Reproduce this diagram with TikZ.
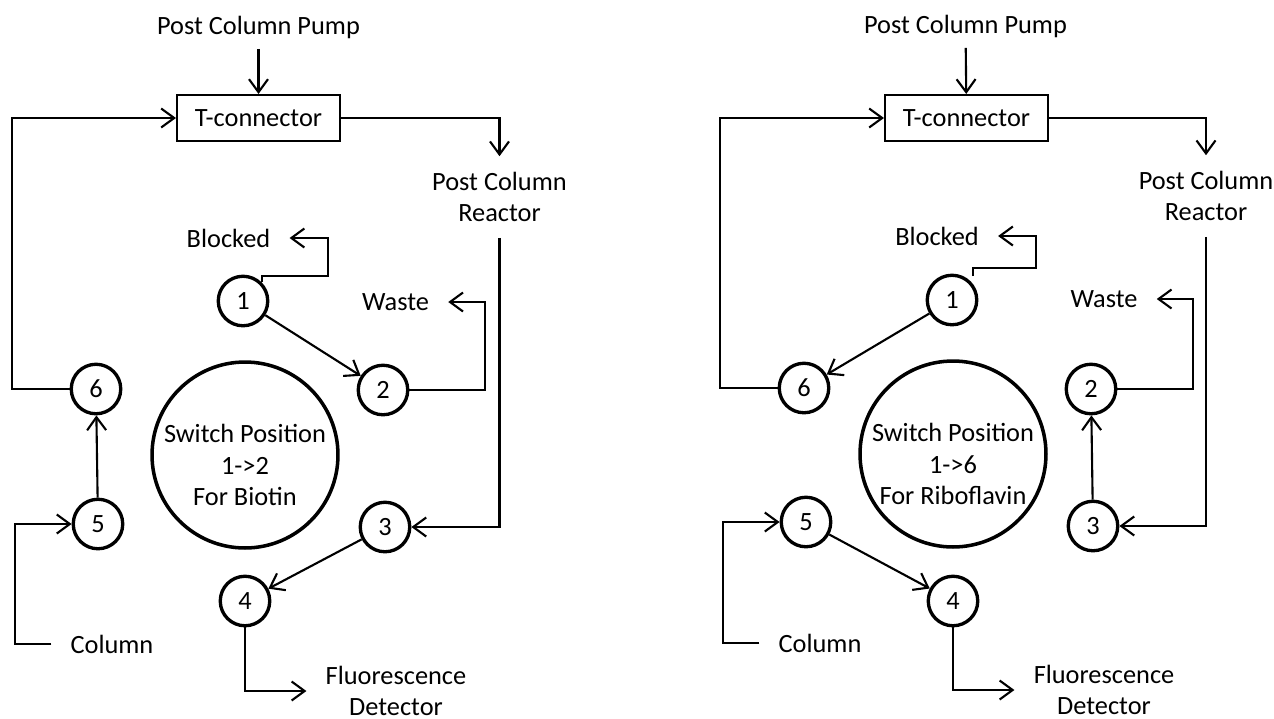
\documentclass[tikz,border=0pt]{standalone}
\usepackage{fontspec}
\setmainfont{Carlito}
\usetikzlibrary{positioning,arrows.meta}

\begin{document}
\begin{tikzpicture}[x=0.02cm, y=-0.02cm,
  port/.style={draw=black, circle, line width=1.9pt, minimum size=0.99cm, inner sep=0pt, font=\fontsize{15}{18}\selectfont},
  switchdisc/.style={draw=black, circle, line width=2pt, minimum size=3.72cm, inner sep=0pt},
  tbox/.style={draw=black, line width=1.2pt, minimum width=3.26cm, minimum height=0.92cm, inner sep=0pt, font=\fontsize{15}{18}\selectfont},
  lbl/.style={align=center, inner sep=0pt, font=\fontsize{15}{17.9}\selectfont},
  endlbl/.style={lbl, outer xsep=11pt},
  pipelbl/.style={lbl, outer ysep=9pt},
  pipe/.style={draw=black, line width=1.2pt, -{Straight Barb[length=2.6mm, width=3.8mm, line width=1.2pt]}}]
\useasboundingbox (0,0) rectangle (1274,718);

% left
\node[lbl, outer ysep=6pt] (pumpa) at (258.5,27) {Post Column Pump};
\node[tbox] (ta) at (258.5,118) {T-connector};
\node[pipelbl] (reactora) at (499.5,197) {Post Column\\Reactor};
\node[endlbl] (blockeda) at (228.5,238) {Blocked};
\node[endlbl] (wastea) at (395.5,302) {Waste};
\node[endlbl] (columna) at (112,644) {Column};
\node[endlbl] (detectora) at (396,691) {Fluorescence\\Detector};
\node[switchdisc] (disca) at (245,455) {};
\node[lbl] (switcha) at (245,465) {Switch Position\\1->2\\For Biotin};
\node[port] (a1) at (243,301) {1};
\node[port] (a2) at (383,390) {2};
\node[port] (a3) at (385,527) {3};
\node[port] (a4) at (245,601) {4};
\node[port] (a5) at (98,524) {5};
\node[port] (a6) at (96,389) {6};
\coordinate (blockbenda) at (328,276);
\coordinate (wastebenda) at (485,302);
\coordinate (loopbenda) at (12,118);
\coordinate (colbenda) at (15,524);
\foreach \a/\b in {pumpa/ta, a1/a2, a3/a4, a5/a6} \draw[pipe] (\a) -- (\b);
\draw[pipe] (ta.east) -| (reactora.north);
\draw[pipe] (reactora.south) |- (a3.east);
\draw[pipe] (a1.45) |- (blockbenda) |- (blockeda.east);
\draw[pipe] (a2.east) -| (wastebenda) -- (wastea.east);
\draw[pipe] (a6.west) -| (loopbenda) -- (ta.west);
\draw[pipe] (columna.west) -| (colbenda) -- (a5.west);
\draw[pipe] (a4.south) |- (detectora.west);

% right
\node[lbl, outer ysep=6pt] (pumpb) at (965.5,26) {Post Column Pump};
\node[tbox] (tb) at (966.5,118) {T-connector};
\node[pipelbl] (reactorb) at (1206,196) {Post Column\\Reactor};
\node[endlbl] (blockedb) at (937,236) {Blocked};
\node[endlbl] (wasteb) at (1104,299) {Waste};
\node[endlbl] (columnb) at (820,643) {Column};
\node[endlbl] (detectorb) at (1104,690) {Fluorescence\\Detector};
\node[switchdisc] (discb) at (953,454) {};
\node[lbl] (switchb) at (953,464) {Switch Position\\1->6\\For Riboflavin};
\node[port] (b1) at (952,300) {1};
\node[port] (b2) at (1091,389) {2};
\node[port] (b3) at (1093,526) {3};
\node[port] (b4) at (953,601) {4};
\node[port] (b5) at (806,522) {5};
\node[port] (b6) at (804,388) {6};
\coordinate (b1up) at (973,276);
\coordinate (blockbendb) at (1036,268);
\coordinate (wastebendb) at (1193,299);
\coordinate (loopbendb) at (720,118);
\coordinate (colbendb) at (723,522);
\foreach \a/\b in {pumpb/tb, b1/b6, b3/b2, b5/b4} \draw[pipe] (\a) -- (\b);
\draw[pipe] (tb.east) -| (reactorb.north);
\draw[pipe] (reactorb.south) |- (b3.east);
\draw[pipe] (b1up) |- (blockbendb) |- (blockedb.east);
\draw[pipe] (b2.east) -| (wastebendb) -- (wasteb.east);
\draw[pipe] (b6.west) -| (loopbendb) -- (tb.west);
\draw[pipe] (columnb.west) -| (colbendb) -- (b5.west);
\draw[pipe] (b4.south) |- (detectorb.west);
\end{tikzpicture}
\end{document}
